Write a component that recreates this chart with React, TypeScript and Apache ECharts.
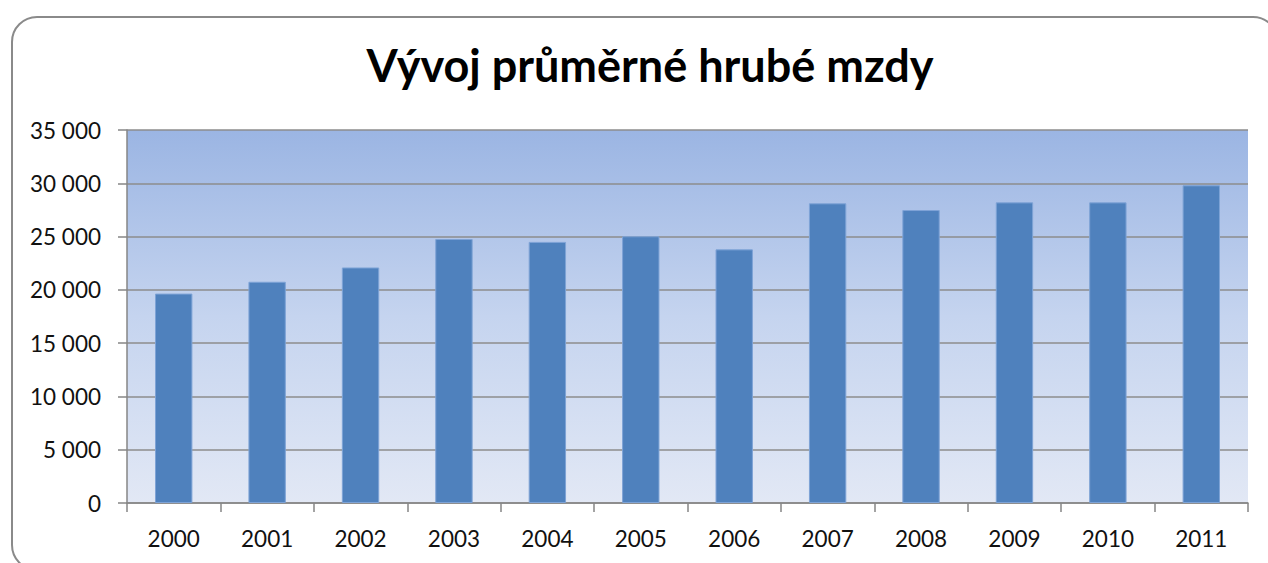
import React, { useEffect, useRef } from "react";
import * as echarts from "echarts";

const title = "Vývoj průměrné hrubé mzdy";
const years = ["2000", "2001", "2002", "2003", "2004", "2005", "2006", "2007", "2008", "2009", "2010", "2011"];
const wages = [19650, 20760, 22100, 24770, 24500, 25030, 23800, 28120, 27490, 28210, 28210, 29810];
const yTicks = { min: 0, max: 35000, interval: 5000 };

const fmt = (v: number) => {
  const s = String(Math.round(v));
  return s.replace(/\B(?=(\d{3})+(?!\d))/g, " ");
};

export default function App() {
  const ref = useRef<HTMLDivElement>(null);
  useEffect(() => {
    if (!ref.current) return;
    const chart = echarts.init(ref.current, undefined, { renderer: "svg" });
    const font = "Lato, 'Open Sans', sans-serif";
    chart.setOption({
      animation: false,
      backgroundColor: "#ffffff",
      title: {
        text: title,
        left: 645,
        top: 37,
        textAlign: "center",
        textStyle: { fontFamily: font, fontWeight: "bold", fontSize: 45, color: "#000000" },
      },
      graphic: [
        {
          type: "rect",
          shape: { x: 12, y: 17, width: 1266, height: 553, r: 25 },
          style: { fill: "none", stroke: "#8a8a8a", lineWidth: 2 },
          z: 100,
        },
      ],
      grid: {
        left: 127,
        right: 20,
        top: 130,
        bottom: 60,
        show: true,
        borderWidth: 0,
        backgroundColor: new echarts.graphic.LinearGradient(0, 0, 0, 1, [
          { offset: 0, color: "#9bb5e3" },
          { offset: 0.5, color: "#c5d4ef" },
          { offset: 1, color: "#e2e8f5" },
        ]),
      },
      xAxis: {
        type: "category",
        data: years,
        boundaryGap: true,
        axisLine: { show: true, lineStyle: { color: "#868686", width: 1.5 } },
        axisTick: { show: true, alignWithLabel: false, length: 9, lineStyle: { color: "#868686", width: 1.5 } },
        axisLabel: { fontFamily: font, fontSize: 22.5, color: "#111111", margin: 24 },
      },
      yAxis: {
        type: "value",
        min: yTicks.min,
        max: yTicks.max,
        interval: yTicks.interval,
        axisLine: { show: true, lineStyle: { color: "#868686", width: 1.5 } },
        axisTick: { show: true, inside: false, length: 9, lineStyle: { color: "#868686", width: 1.5 } },
        axisLabel: { fontFamily: font, fontSize: 22.5, color: "#111111", margin: 26, formatter: fmt },
        splitLine: { show: true, lineStyle: { color: "#8c8c8c", width: 1.5 } },
      },
      series: [
        {
          type: "bar",
          data: wages,
          barWidth: "40%",
          itemStyle: { color: "#4f81bd", borderColor: "#7ea3d6", borderWidth: 1 },
        },
      ],
    });
    return () => chart.dispose();
  }, []);
  return (
    <div
      ref={ref}
      style={{ position: "fixed", left: 0, top: 0, width: 1268, height: 563 }}
    />
  );
}
